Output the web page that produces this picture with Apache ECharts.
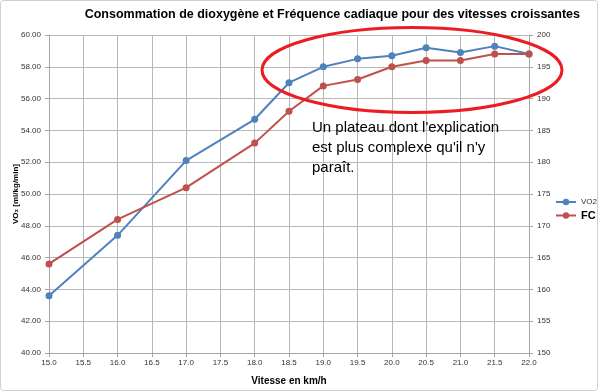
<!DOCTYPE html>
<html><head><meta charset="utf-8">
<script src="https://cdn.jsdelivr.net/npm/echarts@6/dist/echarts.min.js"></script>
<style>html,body{margin:0;padding:0;background:#fff}#c{width:598px;height:392px}</style>
</head><body><div id="c"></div>
<script>
const speeds = [15.0, 16.0, 17.0, 18.0, 18.5, 19.0, 19.5, 20.0, 20.5, 21.0, 21.5, 22.0];
const vo2 = [43.6, 47.4, 52.1, 54.7, 57.0, 58.0, 58.5, 58.7, 59.2, 58.9, 59.3, 58.8];
const fc = [164, 171, 176, 183, 188, 192, 193, 195, 196, 196, 197, 197];
const titleText = 'Consommation de dioxygène et Fréquence cadiaque pour des vitesses croissantes';
const noteText = "Un plateau dont l'explication\nest plus complexe qu'il n'y\nparaît.";

const chart = echarts.init(document.getElementById('c'));
const font = 'Liberation Sans, Arial, sans-serif';
chart.setOption({
  animation: false,
  textStyle: {fontFamily: font},
  title: {text: titleText, right: 13, top: 3,
    textStyle: {fontSize: 12.5, fontWeight: 'bold', color: '#000', fontFamily: font}},
  grid: {left: 49, right: 69, top: 35, bottom: 39, outerBoundsMode: 'none', containLabel: false},
  legend: {
    orient: 'vertical', left: 550, top: 193, itemWidth: 20, itemHeight: 8, itemGap: 4,
    data: [
      {name: 'VO2', textStyle: {fontSize: 8, color: '#333'}},
      {name: 'FC', textStyle: {fontSize: 11, fontWeight: 'bold', color: '#000'}}
    ]
  },
  xAxis: {
    type: 'value', min: 15, max: 22, interval: 0.5,
    name: 'Vitesse en km/h', nameLocation: 'middle', nameGap: 23,
    nameTextStyle: {fontSize: 10, fontWeight: 'bold', color: '#000'},
    axisLine: {lineStyle: {color: '#a6a6a6'}},
    axisTick: {show: true, length: 4, lineStyle: {color: '#a6a6a6'}},
    axisLabel: {fontSize: 8, color: '#333', margin: 6, formatter: v => v.toFixed(1)},
    splitLine: {show: true, lineStyle: {color: '#b8b8b8'}}
  },
  yAxis: [{
    type: 'value', min: 40, max: 60, interval: 2,
    name: 'VO\u2082 [ml/kg/min]', nameLocation: 'middle', nameGap: 29, nameRotate: 90,
    nameMoveOverlap: false,
    nameTextStyle: {fontSize: 8, fontWeight: 'bold', color: '#000'},
    axisLine: {show: true, lineStyle: {color: '#a6a6a6'}},
    axisTick: {show: true, length: 4, lineStyle: {color: '#a6a6a6'}},
    axisLabel: {fontSize: 8, color: '#333', margin: 8, formatter: v => v.toFixed(2)},
    splitLine: {show: true, lineStyle: {color: '#b8b8b8'}}
  }, {
    type: 'value', min: 150, max: 200, interval: 5, position: 'right',
    axisLine: {show: true, lineStyle: {color: '#a6a6a6'}},
    axisTick: {show: true, length: 4, lineStyle: {color: '#a6a6a6'}},
    axisLabel: {fontSize: 8, color: '#333', margin: 8},
    splitLine: {show: false}
  }],
  series: [{
    name: 'VO2', type: 'line', yAxisIndex: 0,
    data: speeds.map((s, i) => [s, vo2[i]]),
    symbol: 'circle', symbolSize: 7,
    itemStyle: {color: '#4f81bd'}, lineStyle: {color: '#4f81bd', width: 2}
  }, {
    name: 'FC', type: 'line', yAxisIndex: 1,
    data: speeds.map((s, i) => [s, fc[i]]),
    symbol: 'circle', symbolSize: 7,
    itemStyle: {color: '#c0504d'}, lineStyle: {color: '#c0504d', width: 2}
  }],
  graphic: [
    {type: 'rect', shape: {x: 0.5, y: 0.5, width: 597, height: 390, r: 3}, silent: true,
     style: {fill: 'none', stroke: '#d0d0d0', lineWidth: 1}, z: -10},
    {type: 'ellipse', shape: {cx: 412, cy: 70, rx: 150, ry: 42.5},
     style: {fill: 'none', stroke: '#ec1c24', lineWidth: 3}, z: 100},
    {type: 'text', left: 312, top: 118,
     style: {text: noteText, fontSize: 15, lineHeight: 20, fill: '#000', fontFamily: font}, z: 100}
  ]
});
</script></body></html>
